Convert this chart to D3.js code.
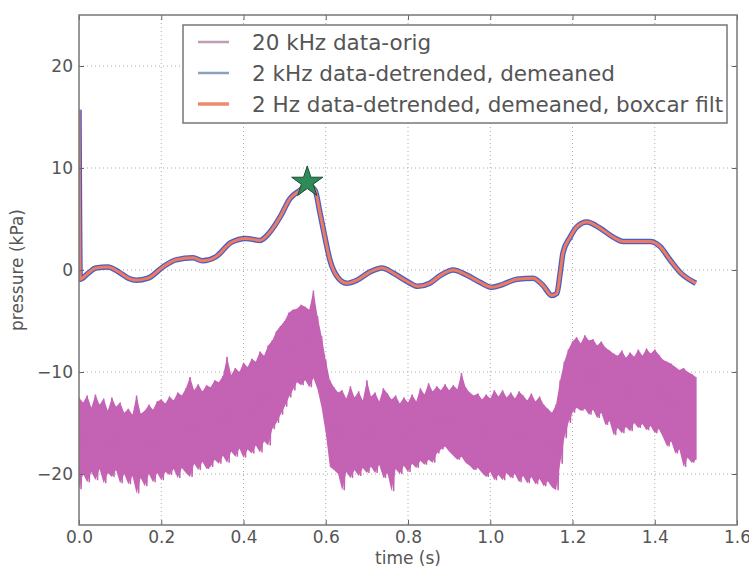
<!DOCTYPE html>
<html>
<head>
<meta charset="utf-8">
<script src="https://cdn.jsdelivr.net/npm/d3@7"></script>
<style>
  body { margin: 0; background: #fff; }
  svg text { font-family: "DejaVu Sans", sans-serif; fill: #555; }
</style>
</head>
<body>
<svg width="749" height="568"></svg>
<script>
// 2 Hz filtered trace (time s, kPa)
const filtT = [0, 0.003, 0.02, 0.041, 0.07, 0.097, 0.12, 0.139, 0.168, 0.204, 0.236, 0.277, 0.30, 0.333, 0.37, 0.406,
  0.44, 0.464, 0.489, 0.513, 0.537, 0.556, 0.574, 0.586, 0.598, 0.61, 0.627, 0.651, 0.676, 0.707, 0.737, 0.764,
  0.797, 0.824, 0.853, 0.88, 0.91, 0.943, 0.975, 1.004, 1.031, 1.065, 1.104, 1.128, 1.15, 1.162, 1.17, 1.177,
  1.194, 1.21, 1.235, 1.267, 1.30, 1.323, 1.357, 1.389, 1.413, 1.437, 1.461, 1.5];
const filtV = [15.7, -0.9, -0.4, 0.2, 0.3, -0.2, -0.8, -1.0, -0.8, 0.3, 1.0, 1.2, 0.9, 1.3, 2.7, 3.1,
  2.9, 3.7, 5.2, 7.0, 7.8, 8.3, 7.8, 5.6, 3.2, 1.0, -0.6, -1.3, -1.0, -0.2, 0.2, -0.3,
  -1.1, -1.6, -1.3, -0.5, 0.0, -0.5, -1.2, -1.7, -1.4, -0.9, -0.8, -1.5, -2.5, -2.3, -0.3, 1.7,
  3.2, 4.2, 4.7, 4.1, 3.2, 2.8, 2.8, 2.8, 2.3, 1.0, -0.2, -1.3];

// 2 kHz detrended trace follows the filtered one closely
const detrT = filtT;
const detrV = filtV;

// 20 kHz raw trace, upper / lower swing every 0.01 s from t = 0
const rawStep = 0.01;
const rawHi = [-12.5, -13.0, -12.3, -13.5, -12.2, -13.2, -12.6, -13.8, -12.5, -13.4,
  -13.0, -14.0, -13.6, -14.2, -12.3, -14.1, -13.8, -13.2, -13.7, -12.9,
  -12.7, -13.1, -12.4, -12.8, -12.0, -12.3, -11.6, -10.5, -11.8, -11.2,
  -11.9, -11.3, -11.5, -10.8, -11.0, -10.4, -8.5, -10.3, -9.6, -10.0,
  -9.1, -9.5, -8.7, -9.0, -8.0, -8.4, -7.4, -6.9, -6.0, -5.5,
  -5.0, -4.2, -3.9, -3.8, -3.4, -3.6, -3.9, -2.0, -4.5, -6.5,
  -8.8, -10.8, -11.5, -12.0, -11.8, -12.6, -11.4, -12.5, -11.9, -12.8,
  -10.8, -12.4, -12.0, -12.9, -11.6, -12.1, -12.7, -12.3, -13.1, -12.5,
  -13.0, -12.2, -12.9, -11.6, -12.2, -11.1, -11.9, -11.4, -11.8, -11.2,
  -11.8, -11.3, -11.7, -10.1, -11.5, -12.0, -12.3, -12.1, -12.7, -12.2,
  -12.6, -11.8, -12.4, -11.8, -12.5, -12.0, -12.6, -11.9, -12.3, -12.8,
  -12.1, -12.9, -12.4, -13.2, -13.6, -14.0, -13.2, -10.8, -9.0, -7.8,
  -7.0, -6.6, -7.2, -6.4, -6.9, -6.8, -7.4, -7.0, -7.6, -7.9,
  -8.2, -8.4, -7.9, -8.6, -8.1, -8.5, -7.8, -8.4, -7.7, -8.2,
  -7.8, -8.3, -8.8, -9.0, -9.2, -9.5, -9.8, -9.6, -10.0, -10.2, -10.5];
const rawLo = [-21.5, -20.0, -20.8, -19.8, -20.6, -19.5, -20.9, -19.9, -20.3, -19.6,
  -20.9, -20.0, -21.0, -20.2, -21.9, -20.4, -21.2, -20.0, -20.8, -19.9,
  -20.6, -19.8, -20.1, -19.5, -20.4, -19.4, -19.9, -20.3, -19.0, -19.6,
  -18.8, -19.5, -19.3, -18.6, -19.0, -18.2, -18.9, -17.8, -18.3, -17.5,
  -18.4, -17.6, -18.0, -17.2, -17.9, -16.8, -17.2, -15.6, -15.0, -14.2,
  -13.4, -12.5, -11.8, -11.0, -11.3, -10.8, -11.5, -10.6, -11.7, -13.5,
  -16.0, -19.3, -19.6, -20.0, -21.6, -19.8, -20.4, -19.6, -20.2, -19.4,
  -19.9, -19.3, -19.9, -19.1, -20.4, -19.9, -21.7, -19.5, -20.0, -19.2,
  -19.8, -19.0, -19.4, -18.7, -19.1, -18.6, -18.9, -18.0, -17.6, -17.3,
  -17.8, -18.2, -18.6, -18.3, -18.9, -19.2, -19.6, -19.4, -19.9, -20.3,
  -19.8, -20.6, -20.1, -20.6, -19.9, -20.4, -20.0, -20.8, -20.2, -20.9,
  -20.3, -21.0, -20.5, -21.2, -20.7, -21.3, -21.6, -19.0, -16.5, -15.0,
  -14.0, -13.5, -13.8, -13.6, -14.2, -13.7, -14.5, -14.0, -15.2, -14.8,
  -16.2, -15.5, -16.0, -15.4, -15.8, -15.0, -15.5, -15.1, -15.7, -15.3,
  -16.0, -15.6, -16.4, -17.3, -16.8, -18.0, -17.6, -19.3, -18.4, -18.9, -18.6];

// peak marker
const peak = { t: 0.555, v: 8.6 };

const xTicks = [0, 0.2, 0.4, 0.6, 0.8, 1.0, 1.2, 1.4, 1.6];
const yTicks = [-20, -10, 0, 10, 20];
const legendLabels = ['20 kHz data-orig', '2 kHz data-detrended, demeaned', '2 Hz data-detrended, demeaned, boxcar filt'];
const legendColors = ['#bf9cb8', '#8da0bb', '#ec8a6e'];

const colRaw = '#c462b4', colDetr = '#4a5fc4', colFilt = '#ee7a5f';

const svg = d3.select('svg');
const pLeft = 79, pRight = 737, pTop = 15, pBottom = 525;

const x = d3.scaleLinear().domain([0, 1.6]).range([pLeft, pRight]);
const y = d3.scaleLinear().domain([-25, 25]).range([pBottom, pTop]);

svg.append('clipPath').attr('id', 'plot')
  .append('rect').attr('x', pLeft).attr('y', pTop).attr('width', pRight - pLeft).attr('height', pBottom - pTop);

// dotted grid
const grid = svg.append('g').attr('stroke', '#aaa').attr('stroke-width', 1).attr('stroke-dasharray', '1,3');
grid.selectAll('.gx').data(xTicks.slice(1, -1)).enter().append('line')
  .attr('x1', d => x(d)).attr('x2', d => x(d)).attr('y1', pTop).attr('y2', pBottom);
grid.selectAll('.gy').data(yTicks).enter().append('line')
  .attr('y1', d => y(d)).attr('y2', d => y(d)).attr('x1', pLeft).attr('x2', pRight);

const plot = svg.append('g').attr('clip-path', 'url(#plot)');

// raw trace: solid band between the swings, plus the zigzag for the spiky edge
plot.append('path')
  .attr('d', d3.area().x((d, i) => x(i * rawStep)).y0((d, i) => y(rawLo[i])).y1(d => y(d))(rawHi))
  .attr('fill', colRaw);

let rawPts = [];
rawHi.forEach((h, i) => {
  rawPts.push([i * rawStep, h]);
  if (i < rawHi.length - 1) rawPts.push([i * rawStep + rawStep / 2, rawLo[i]]);
  else rawPts.push([i * rawStep, rawLo[i]]);
});
plot.append('path')
  .attr('d', d3.line().x(d => x(d[0])).y(d => y(d[1]))(rawPts))
  .attr('fill', 'none').attr('stroke', colRaw).attr('stroke-width', 1.5).attr('stroke-linejoin', 'bevel');

const smooth = d3.line().x(d => x(d[0])).y(d => y(d[1])).curve(d3.curveMonotoneX);

plot.append('path')
  .attr('d', smooth(detrT.map((t, i) => [t, detrV[i]])))
  .attr('fill', 'none').attr('stroke', colDetr).attr('stroke-width', 5.5).attr('stroke-linejoin', 'round');

plot.append('path')
  .attr('d', smooth(filtT.map((t, i) => [t, filtV[i]])))
  .attr('fill', 'none').attr('stroke', colFilt).attr('stroke-width', 3).attr('stroke-linejoin', 'round');

plot.append('path')
  .attr('d', d3.symbol(d3.symbolStar, 300)())
  .attr('transform', `translate(${x(peak.t)},${y(peak.v)})`)
  .attr('fill', '#2e8b57').attr('stroke', '#1d4d33').attr('stroke-width', 1);

// axes, ticks pointing inwards on all four sides
svg.append('g').attr('transform', `translate(0,${pBottom})`)
  .call(d3.axisBottom(x).tickValues(xTicks).tickFormat(d3.format('.1f')).tickSizeInner(-5).tickSizeOuter(0).tickPadding(6));
svg.append('g').attr('transform', `translate(${pLeft},0)`)
  .call(d3.axisLeft(y).tickValues(yTicks).tickFormat(d => d < 0 ? '\u2212' + Math.abs(d) : d).tickSizeInner(-5).tickSizeOuter(0).tickPadding(6));
svg.append('g').attr('transform', `translate(0,${pTop})`)
  .call(d3.axisTop(x).tickValues(xTicks).tickFormat('').tickSizeInner(-5).tickSizeOuter(0));
svg.append('g').attr('transform', `translate(${pRight},0)`)
  .call(d3.axisRight(y).tickValues(yTicks).tickFormat('').tickSizeInner(-5).tickSizeOuter(0));

svg.selectAll('.domain').remove();
svg.selectAll('.tick line').attr('stroke', '#666').attr('stroke-width', 1);
svg.selectAll('.tick text').attr('font-size', 17).attr('fill', '#555').style('font-family', '"DejaVu Sans", sans-serif');

svg.append('rect').attr('x', pLeft).attr('y', pTop).attr('width', pRight - pLeft).attr('height', pBottom - pTop)
  .attr('fill', 'none').attr('stroke', '#777').attr('stroke-width', 1.5);

svg.append('text').attr('x', (pLeft + pRight) / 2).attr('y', 564).attr('text-anchor', 'middle')
  .attr('font-size', 17).text('time (s)');
svg.append('text').attr('transform', `translate(23,${(pTop + pBottom) / 2}) rotate(-90)`).attr('text-anchor', 'middle')
  .attr('font-size', 17).text('pressure (kPa)');

// legend
const lg = svg.append('g');
lg.append('rect').attr('x', 183).attr('y', 25).attr('width', 544).attr('height', 98)
  .attr('fill', '#fff').attr('stroke', '#777').attr('stroke-width', 1.5);
legendLabels.forEach((lab, i) => {
  let ly = 42 + i * 31;
  lg.append('line').attr('x1', 198).attr('x2', 229).attr('y1', ly).attr('y2', ly)
    .attr('stroke', legendColors[i]).attr('stroke-width', i === 2 ? 3.5 : 2.5);
  lg.append('text').attr('x', 252).attr('y', ly + 7.5).attr('font-size', 21.5).text(lab);
});
</script>
</body>
</html>
